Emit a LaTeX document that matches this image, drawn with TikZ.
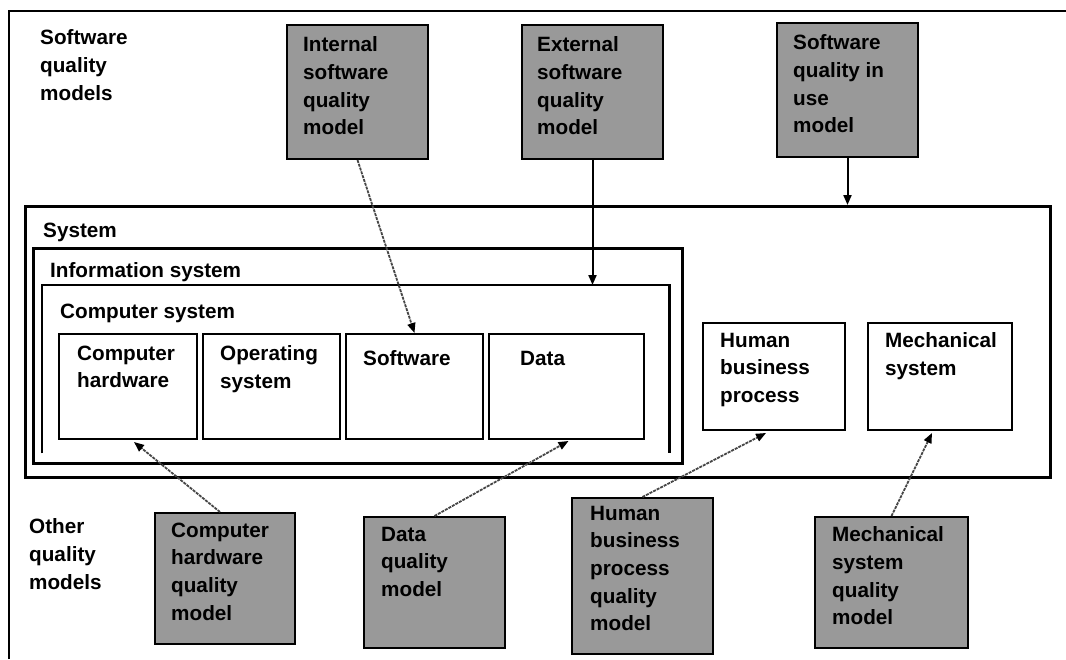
\documentclass[tikz,border=0pt]{standalone}
\usepackage{fontspec}
\setmainfont{Liberation Sans}
\usetikzlibrary{arrows.meta,calc}
\definecolor{boxgray}{RGB}{153,153,153}
\definecolor{linkgray}{RGB}{70,70,70}
\tikzset{
  frame/.style={line width=2.5pt},
  wbox/.style={draw, line width=2pt, fill=white, inner sep=0pt, anchor=north west},
  gbox/.style={draw, line width=2pt, fill=boxgray, inner sep=0pt, anchor=north west},
  area/.style={inner sep=0pt, anchor=north west},
  txt/.style={anchor=north west, yshift=19.39pt, inner sep=0pt, align=left,
    font=\fontsize{20.7}{27.7}\selectfont\bfseries, execute at begin node=\strut},
  link/.style={draw=linkgray, line width=1.8pt, dash pattern=on 3pt off 1pt,
    -{Triangle[length=10pt,width=8pt,fill=black,color=black]}},
  solidlink/.style={draw, line width=2pt, -{Triangle[length=10pt,width=8pt]}}
}
\begin{document}
\begin{tikzpicture}[x=1pt,y=-1pt]
\useasboundingbox (0,0) rectangle (1066,659);
% outer frame (cropped at right and bottom)
\draw[frame] (9,659) -- (9,11) -- (1066,11);

% containers
\node[wbox, line width=2.5pt, minimum width=1025pt, minimum height=271pt] (sys) at (24,205) {};
\node[wbox, line width=2.5pt, minimum width=649pt, minimum height=215pt] (info) at (32,247) {};
\node[area, minimum width=627pt, minimum height=168pt] (cs) at (42,285) {};
\draw[frame] (cs.south west) |- (cs.north east) -- (cs.south east);

% inner boxes
\node[wbox, minimum width=138pt, minimum height=105pt] (ch) at (58,333) {};
\node[wbox, minimum width=137pt, minimum height=105pt] (os) at (202,333) {};
\node[wbox, minimum width=137pt, minimum height=105pt] (sw) at (345,333) {};
\node[wbox, minimum width=155pt, minimum height=105pt] (dat) at (488,333) {};
\node[wbox, minimum width=142pt, minimum height=107pt] (hbp) at (702,322) {};
\node[wbox, minimum width=144pt, minimum height=107pt] (ms) at (867,322) {};

% gray model boxes
\node[gbox, minimum width=141pt, minimum height=134pt] (ism) at (286,24) {};
\node[gbox, minimum width=141pt, minimum height=134pt] (esm) at (521,24) {};
\node[gbox, minimum width=141pt, minimum height=134pt] (usm) at (776,22) {};
\node[gbox, minimum width=140pt, minimum height=131pt] (chqm) at (154,512) {};
\node[gbox, minimum width=141pt, minimum height=131pt] (dqm) at (363,516) {};
\node[gbox, minimum width=141pt, minimum height=156pt] (hbpqm) at (571,497) {};
\node[gbox, minimum width=153pt, minimum height=131pt] (msqm) at (814,516) {};

% texts
\node[txt] (t1) at (40,49) {Software\\quality\\models};
\node[txt] (t2) at (29,538) {Other\\quality\\models};
\node[txt] (t3) at (43,237) {System};
\node[txt] (t4) at (50,277) {Information system};
\node[txt] (t5) at (60,318) {Computer system};
\node[txt] (t6) at (77,365) {Computer\\hardware};
\node[txt] (t7) at (220,365) {Operating\\system};
\node[txt] (t8) at (363,365) {Software};
\node[txt] (t9) at (520,365) {Data};
\node[txt] (t10) at (720,352) {Human\\business\\process};
\node[txt] (t11) at (885,352) {Mechanical\\system};
\node[txt] (t12) at (303,56) {Internal\\software\\quality\\model};
\node[txt] (t13) at (537,56) {External\\software\\quality\\model};
\node[txt] (t14) at (793,54) {Software\\quality in\\use\\model};
\node[txt] (t15) at (171,542) {Computer\\hardware\\quality\\model};
\node[txt] (t16) at (381,546) {Data\\quality\\model};
\node[txt] (t17) at (590,525) {Human\\business\\process\\quality\\model};
\node[txt] (t18) at (832,546) {Mechanical\\system\\quality\\model};

% connectors
\draw[link] (ism.south) -- (sw.north);
\draw[solidlink] (esm.south) -- (esm.south |- cs.north);
\draw[solidlink] (usm.south) -- (usm.south |- sys.north);
\draw[link] ($(chqm.north)+(-5,0)$) -- ($(ch.south)+(6,2)$);
\draw[link] (dqm.north) -- ($(dat.south)+(2,1)$);
\draw[link] (hbpqm.north) -- ($(hbp.south)+(-8,2)$);
\draw[link] (msqm.north) -- ($(ms.south)+(-8,2)$);
\end{tikzpicture}
\end{document}
